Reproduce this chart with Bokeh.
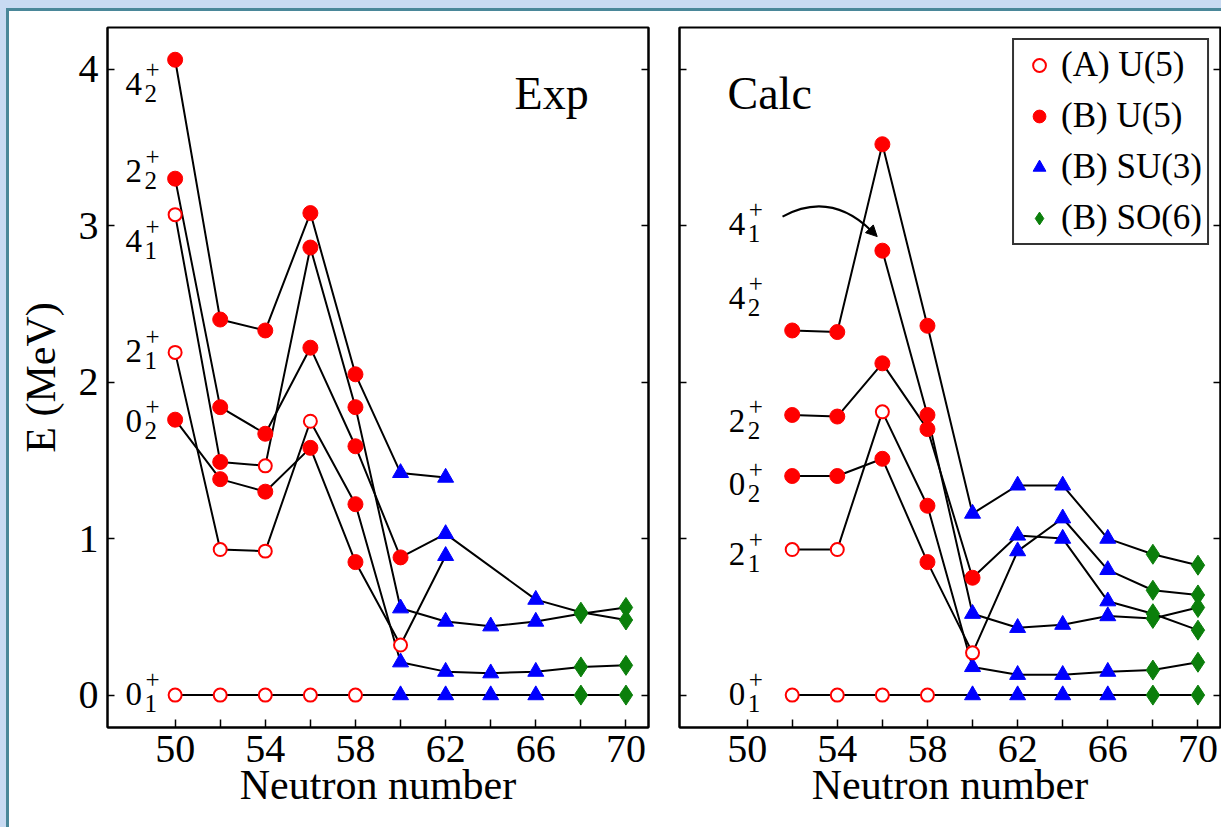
from bokeh.plotting import figure
from bokeh.layouts import row
from bokeh.models import (Range1d, FixedTicker, LinearAxis, Label, Legend, LegendItem,
                          Arrow, NormalHead)
from bokeh.embed import file_html
from bokeh.resources import INLINE

# ---------------- data ----------------
# marker type codes: A = (A) U(5) open circle, B = (B) U(5) filled circle,
#                    S = (B) SU(3) triangle,   O = (B) SO(6) diamond
exp_N_01 = [50, 52, 54, 56, 58, 60, 62, 64, 66, 68, 70]
exp_E_01 = [0, 0, 0, 0, 0, 0, 0, 0, 0, 0, 0]
exp_T_01 = ["A", "A", "A", "A", "A", "S", "S", "S", "S", "O", "O"]

exp_N_21 = [50, 52, 54, 56, 58, 60, 62, 64, 66, 68, 70]
exp_E_21 = [2.19, 0.93, 0.92, 1.75, 1.22, 0.21, 0.15, 0.14, 0.15, 0.18, 0.19]
exp_T_21 = ["A", "A", "A", "A", "B", "S", "S", "S", "S", "O", "O"]

exp_N_41 = [50, 52, 54, 56, 58, 60, 62, 64, 66, 68, 70]
exp_E_41 = [3.07, 1.49, 1.465, 2.86, 1.84, 0.555, 0.47, 0.44, 0.47, 0.52, 0.56]
exp_T_41 = ["A", "B", "A", "B", "B", "S", "S", "S", "S", "O", "O"]

exp_N_02 = [50, 52, 54, 56, 58, 60, 62]
exp_E_02 = [1.76, 1.38, 1.30, 1.58, 0.85, 0.32, 0.89]
exp_T_02 = ["B", "B", "B", "B", "B", "A", "S"]

exp_N_22 = [50, 52, 54, 56, 58, 60, 62, 66, 68, 70]
exp_E_22 = [3.30, 1.84, 1.67, 2.22, 1.59, 0.88, 1.03, 0.61, 0.53, 0.48]
exp_T_22 = ["B", "B", "B", "B", "B", "B", "S", "S", "O", "O"]

exp_N_42 = [50, 52, 54, 56, 58, 60, 62]
exp_E_42 = [4.06, 2.40, 2.33, 3.08, 2.05, 1.42, 1.39]
exp_T_42 = ["B", "B", "B", "B", "B", "S", "S"]

calc_N_01 = [52, 54, 56, 58, 60, 62, 64, 66, 68, 70]
calc_E_01 = [0, 0, 0, 0, 0, 0, 0, 0, 0, 0]
calc_T_01 = ["A", "A", "A", "A", "S", "S", "S", "S", "O", "O"]

calc_N_21 = [52, 54, 56, 58, 60, 62, 64, 66, 68, 70]
calc_E_21 = [0.93, 0.93, 1.81, 1.21, 0.18, 0.13, 0.13, 0.15, 0.16, 0.21]
calc_T_21 = ["A", "A", "A", "B", "S", "S", "S", "S", "O", "O"]

calc_N_02 = [52, 54, 56, 58, 60, 62, 64, 66, 68, 70]
calc_E_02 = [1.40, 1.40, 1.51, 0.85, 0.27, 0.92, 1.13, 0.80, 0.67, 0.64]
calc_T_02 = ["B", "B", "B", "B", "A", "S", "S", "S", "O", "O"]

calc_N_41 = [56, 58, 60, 62, 64, 66, 68, 70]
calc_E_41 = [2.84, 1.79, 0.52, 0.43, 0.45, 0.505, 0.49, 0.56]
calc_T_41 = ["B", "B", "S", "S", "S", "S", "O", "O"]

calc_N_22 = [52, 54, 56, 58, 60, 62, 64, 66, 68, 70]
calc_E_22 = [1.79, 1.78, 2.12, 1.70, 0.75, 1.02, 1.00, 0.60, 0.52, 0.415]
calc_T_22 = ["B", "B", "B", "B", "B", "S", "S", "S", "O", "O"]

calc_N_42 = [52, 54, 56, 58, 60, 62, 64, 66, 68, 70]
calc_E_42 = [2.33, 2.32, 3.52, 2.36, 1.16, 1.34, 1.34, 1.00, 0.90, 0.83]
calc_T_42 = ["B", "B", "B", "B", "S", "S", "S", "S", "O", "O"]

legend_labels = ["(A) U(5)", "(B) U(5)", "(B) SU(3)", "(B) SO(6)"]
x_ticks = [50, 54, 58, 62, 66, 70]
x_minor = [52, 56, 60, 64, 68]
y_ticks = [0, 1, 2, 3, 4]

# ---------------- styles ----------------
FONT = "Liberation Serif"
RED, BLUE, GREEN = "#ff0000", "#0000ff", "#0b7f0b"

exp_series = [(exp_N_01, exp_E_01, exp_T_01), (exp_N_21, exp_E_21, exp_T_21),
              (exp_N_41, exp_E_41, exp_T_41), (exp_N_02, exp_E_02, exp_T_02),
              (exp_N_22, exp_E_22, exp_T_22), (exp_N_42, exp_E_42, exp_T_42)]
calc_series = [(calc_N_01, calc_E_01, calc_T_01), (calc_N_21, calc_E_21, calc_T_21),
               (calc_N_02, calc_E_02, calc_T_02), (calc_N_41, calc_E_41, calc_T_41),
               (calc_N_22, calc_E_22, calc_T_22), (calc_N_42, calc_E_42, calc_T_42)]

blank_labels = {t: "" for t in y_ticks}


def make_fig(left_border, right_border, show_labels):
    p = figure(frame_width=541, frame_height=700,
               x_range=Range1d(47, 71), y_range=Range1d(-0.207, 4.266),
               output_backend="svg", toolbar_location=None,
               min_border_left=left_border, min_border_right=right_border,
               min_border_top=16, min_border_bottom=100,
               background_fill_color="white", border_fill_color="white")
    p.xgrid.grid_line_color = None
    p.ygrid.grid_line_color = None
    p.outline_line_color = "black"
    p.outline_line_width = 2

    xa = p.xaxis[0]
    xa.ticker = FixedTicker(ticks=x_ticks, minor_ticks=x_minor)
    xa.major_tick_in, xa.major_tick_out = 8, 0
    xa.minor_tick_in, xa.minor_tick_out = 8, 0
    xa.major_tick_line_width = 1.5
    xa.minor_tick_line_width = 1.5
    xa.axis_line_width = 2
    xa.major_label_text_font = FONT
    xa.major_label_text_font_size = "40px"
    xa.major_label_text_color = "black"
    xa.major_label_standoff = 8
    xa.axis_label = "Neutron number"
    xa.axis_label_text_font = FONT
    xa.axis_label_text_font_size = "42px"
    xa.axis_label_text_font_style = "normal"
    xa.axis_label_text_color = "black"
    xa.axis_label_standoff = -3

    ya = p.yaxis[0]
    ya.ticker = FixedTicker(ticks=y_ticks, minor_ticks=[])
    ya.major_tick_in, ya.major_tick_out = 7, 0
    ya.minor_tick_in, ya.minor_tick_out = 0, 0
    ya.major_tick_line_width = 1.5
    ya.axis_line_width = 2
    if show_labels:
        ya.major_label_text_font = FONT
        ya.major_label_text_font_size = "40px"
        ya.major_label_text_color = "black"
        ya.major_label_standoff = 9
        ya.axis_label = "E (MeV)"
        ya.axis_label_text_font = FONT
        ya.axis_label_text_font_size = "42px"
        ya.axis_label_text_font_style = "normal"
        ya.axis_label_text_color = "black"
        ya.axis_label_standoff = 12
    else:
        ya.major_label_overrides = blank_labels
        ya.major_label_text_font_size = "10px"
        ya.major_label_standoff = 0

    ra = LinearAxis(ticker=FixedTicker(ticks=y_ticks, minor_ticks=[]),
                    major_tick_in=7, major_tick_out=0, minor_tick_in=0, minor_tick_out=0,
                    major_tick_line_width=1.5, axis_line_width=2,
                    major_label_overrides=blank_labels,
                    major_label_text_font_size="10px", major_label_standoff=0)
    p.add_layout(ra, "right")
    return p


def draw_panel(p, series):
    for N, E, T in series:
        p.line(N, E, line_color="black", line_width=2)
    pts = {k: ([], []) for k in "ABSO"}
    for N, E, T in series:
        for n, e, t in zip(N, E, T):
            pts[t][0].append(n)
            pts[t][1].append(e)
    rS = p.scatter(pts["S"][0], pts["S"][1], marker="triangle", size=16,
                   fill_color=BLUE, line_color=BLUE)
    rO = p.scatter(pts["O"][0], pts["O"][1], marker="diamond", size=20,
                   fill_color=GREEN, line_color=GREEN)
    rB = p.scatter(pts["B"][0], pts["B"][1], marker="circle", size=15,
                   fill_color=RED, line_color=RED)
    rA = p.scatter(pts["A"][0], pts["A"][1], marker="circle", size=13,
                   fill_color="white", line_color=RED, line_width=2)
    return rA, rB, rS, rO


def level_label(p, x, y, main, sub):
    p.add_layout(Label(x=x, y=y, text=main, text_font=FONT, text_font_size="33px",
                       text_color="black", text_baseline="alphabetic", text_align="left"))
    p.add_layout(Label(x=x, y=y, x_offset=19, y_offset=-10, text=sub, text_font=FONT,
                       text_font_size="25px", text_color="black",
                       text_baseline="alphabetic", text_align="left"))
    p.add_layout(Label(x=x, y=y, x_offset=20, y_offset=14, text="+", text_font=FONT,
                       text_font_size="25px", text_color="black",
                       text_baseline="alphabetic", text_align="left"))


# ---------------- left panel: Exp ----------------
p1 = make_fig(98, 16, True)
draw_panel(p1, exp_series)
for (m, s, yy) in [("4", "2", 3.906), ("2", "2", 3.350), ("4", "1", 2.903),
                   ("2", "1", 2.200), ("0", "2", 1.753), ("0", "1", 0.008)]:
    level_label(p1, 47.80, yy, m, s)
p1.add_layout(Label(x=65.06, y=3.842, text="Exp", text_font=FONT, text_font_size="46px",
                    text_color="black", text_baseline="alphabetic"))

# ---------------- right panel: Calc ----------------
p2 = make_fig(15, 1, False)
rA, rB, rS, rO = draw_panel(p2, calc_series)
for (m, s, yy) in [("4", "1", 3.012), ("4", "2", 2.540), ("2", "2", 1.753),
                   ("0", "2", 1.350), ("2", "1", 0.903), ("0", "1", 0.008)]:
    level_label(p2, 49.19, yy, m, s)
p2.add_layout(Label(x=49.13, y=3.842, text="Calc", text_font=FONT, text_font_size="46px",
                    text_color="black", text_baseline="alphabetic"))

# curved arrow pointing at the calculated 4+1 state of N=56
p2.quadratic(x0=[51.57], y0=[3.058], x1=[55.52], y1=[2.966], cx=[53.69], cy=[3.224],
             line_color="black", line_width=2)
p2.add_layout(Arrow(end=NormalHead(size=11, fill_color="black", line_color="black"),
                    x_start=55.52, y_start=2.966, x_end=55.77, y_end=2.93,
                    line_color="black", line_width=2))

legend = Legend(items=[LegendItem(label=legend_labels[0], renderers=[rA]),
                       LegendItem(label=legend_labels[1], renderers=[rB]),
                       LegendItem(label=legend_labels[2], renderers=[rS]),
                       LegendItem(label=legend_labels[3], renderers=[rO])],
                location="top_right", margin=11, padding=5, spacing=11,
                glyph_width=40, glyph_height=32, label_height=30, label_standoff=2,
                label_text_font=FONT, label_text_font_size="35px", label_text_color="black",
                border_line_color="#333333", border_line_width=2, border_line_alpha=1.0,
                background_fill_color="white", background_fill_alpha=1.0)
p2.add_layout(legend)

inner = row(p1, p2, styles={"border-top": "3px solid #4a8799",
                            "border-left": "3px solid #4a8799",
                            "background-color": "white"})
layout = row(inner, styles={"border-top": "8px solid #c8daf2",
                            "border-left": "6px solid #c8daf2"})

open("out.html", "w").write(file_html(layout, INLINE))
